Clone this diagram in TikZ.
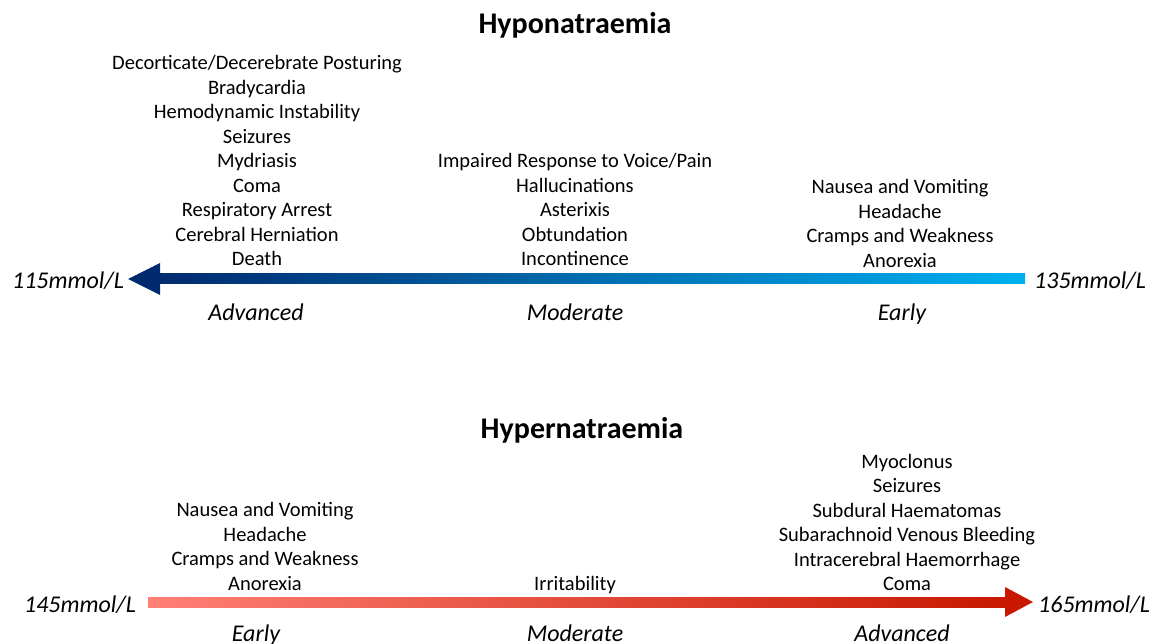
\documentclass[tikz,border=0pt]{standalone}
\usepackage{fontspec}
\setmainfont{Carlito}
\begin{document}
\begin{tikzpicture}[x=1pt,y=-1pt,
  oneline/.style={inner sep=0pt,text height=1.2em,text depth=0.2em},
  item/.style={align=center,inner sep=0pt,font=\fontsize{20.5}{24.5}\selectfont},
  single/.style={oneline,font=\fontsize{20.5}{24.5}\selectfont},
  title/.style={oneline,font=\fontsize{30}{34}\selectfont\bfseries},
  stage/.style={oneline,font=\fontsize{24}{28}\selectfont\itshape},
  endlab/.style={oneline,font=\fontsize{24}{28}\selectfont\itshape}]
\definecolor{navy}{RGB}{0,42,110}
\definecolor{sky}{RGB}{0,176,240}
\definecolor{salmon}{RGB}{255,128,118}
\definecolor{crimson}{RGB}{200,24,0}
\useasboundingbox[fill=white] (0,0) rectangle (1151,644);

% ---- Hyponatraemia ----
\node[title] (hypoT) at (575,29) {Hyponatraemia};
\shade[left color=navy,right color=sky] (158,274) rectangle (1025,284);
\fill[navy] (128,279) -- (160,263) -- (160,295) -- cycle;
\node[endlab] (lo1) at (68,284) {115mmol/L};
\node[endlab] (hi1) at (1090,284) {135mmol/L};

\node[item] (adv1) at (257,160.5) {Decorticate/Decerebrate Posturing\\Bradycardia\\Hemodynamic Instability\\Seizures\\Mydriasis\\Coma\\Respiratory Arrest\\Cerebral Herniation\\Death};
\node[item] (mod1) at (575,209.5) {Impaired Response to Voice/Pain\\Hallucinations\\Asterixis\\Obtundation\\Incontinence};
\node[item] (ear1) at (900,223.5) {Nausea and Vomiting\\Headache\\Cramps and Weakness\\Anorexia};

\node[stage] (sA1) at (256,315) {Advanced};
\node[stage] (sM1) at (575,315) {Moderate};
\node[stage] (sE1) at (902,315) {Early};

% ---- Hypernatraemia ----
\node[title] (hyperT) at (582,433) {Hypernatraemia};
\shade[left color=salmon,right color=crimson] (148,597) rectangle (1007,607);
\fill[crimson] (1033,602) -- (1005,587) -- (1005,617) -- cycle;
\node[endlab] (lo2) at (80,607) {145mmol/L};
\node[endlab] (hi2) at (1094,607) {165mmol/L};

\node[item] (ear2) at (265,546.5) {Nausea and Vomiting\\Headache\\Cramps and Weakness\\Anorexia};
\node[single] (mod2) at (575,585) {Irritability};
\node[item] (adv2) at (907,522.5) {Myoclonus\\Seizures\\Subdural Haematomas\\Subarachnoid Venous Bleeding\\Intracerebral Haemorrhage\\Coma};

\node[stage] (sE2) at (256,636) {Early};
\node[stage] (sM2) at (575,636) {Moderate};
\node[stage] (sA2) at (902,636) {Advanced};
\end{tikzpicture}
\end{document}
